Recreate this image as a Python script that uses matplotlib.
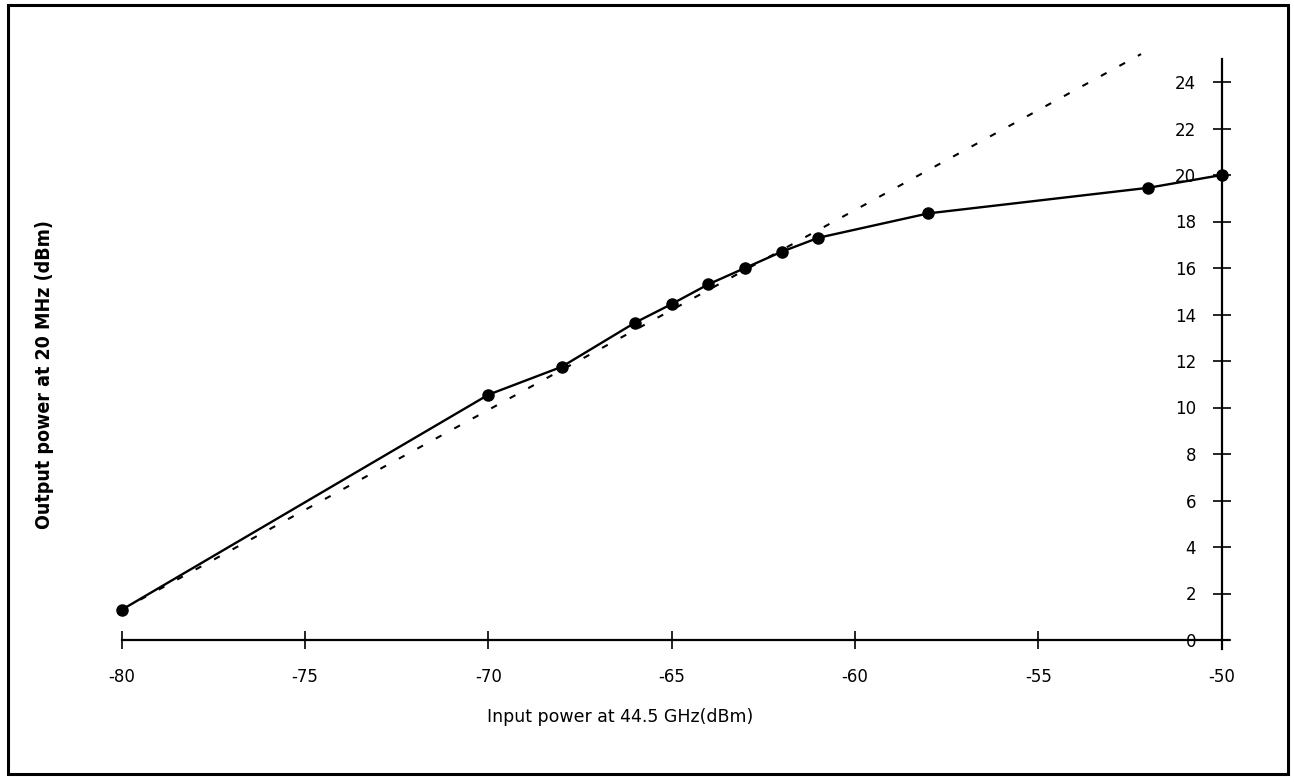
import matplotlib
matplotlib.use("Agg")
import matplotlib.pyplot as plt
from matplotlib.patches import Rectangle

plt.rcParams["axes.unicode_minus"] = False

# measured points
input_power = [-80, -70, -68, -66, -65, -64, -63, -62, -61, -58, -52, -50]
output_power = [1.3, 10.55, 11.75, 13.65, 14.45, 15.3, 16.0, 16.7, 17.3, 18.35, 19.45, 20.0]

# linear (small-signal) extrapolation, dotted
linear_x = [-80, -52.2]
linear_y = [1.3, 25.2]

x_ticks = [-80, -75, -70, -65, -60, -55, -50]
y_ticks = list(range(0, 26, 2))

fig = plt.figure(figsize=(12.94, 7.82), dpi=100)

# outer frame
fig.patches.append(Rectangle((8 / 1294, 1 - 774 / 782), 1280 / 1294, 769 / 782,
                             transform=fig.transFigure, fill=False,
                             edgecolor="black", linewidth=2.2))

# right edge of the axes sits on x = -50
ax = fig.add_axes([103.4 / 1294, (782 - 663.25) / 782, 1118.3 / 1294, 627.75 / 782])
ax.set_xlim(-80.5, -50)
ax.set_ylim(-1, 26)
ax.patch.set_visible(False)

ax.plot(linear_x, linear_y, color="black", lw=1.5, linestyle=(0, (3.1, 7)), clip_on=False)
ax.plot(input_power, output_power, color="black", lw=1.7, marker="o", markersize=8, clip_on=False)

# axes cross at y=0 and x=-50
ax.spines["top"].set_visible(False)
ax.spines["left"].set_visible(False)
ax.spines["bottom"].set_position(("data", 0))
ax.spines["bottom"].set_bounds(-80, -49.8)
ax.spines["right"].set_bounds(-0.4, 25.0)
ax.spines["bottom"].set_linewidth(1.6)
ax.spines["right"].set_linewidth(1.6)

ax.yaxis.tick_right()
ax.set_xticks(x_ticks)
ax.set_yticks(y_ticks)
ax.tick_params(axis="both", direction="inout", length=13, width=1.2, labelsize=12)
ax.tick_params(axis="x", pad=14)
ax.tick_params(axis="y", pad=-25)
for lab in ax.get_yticklabels():
    lab.set_horizontalalignment("right")

fig.text(620 / 1294, 1 - 717 / 782, "Input power at 44.5 GHz(dBm)",
         ha="center", va="center", fontsize=12.5)
fig.text(45 / 1294, 1 - 375 / 782, "Output power at 20 MHz (dBm)",
         ha="center", va="center", rotation=90, fontsize=14, fontweight="bold",
         family=["Liberation Sans Narrow", "DejaVu Sans"], fontstretch="condensed")

fig.savefig("out.png", dpi=100)
